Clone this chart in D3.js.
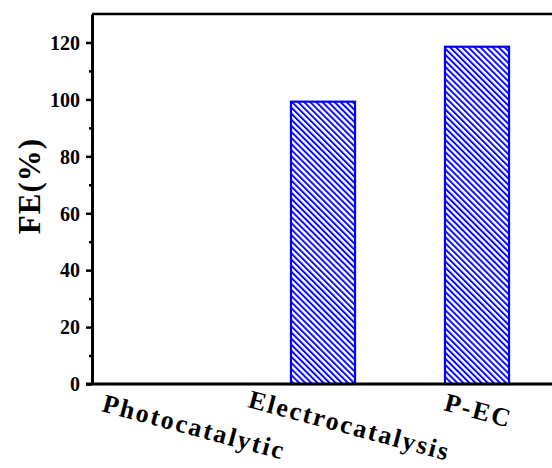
<!DOCTYPE html>
<html>
<head>
<meta charset="utf-8">
<script src="https://cdn.jsdelivr.net/npm/d3@7"></script>
<style>
  html, body { margin: 0; padding: 0; background: #fff; }
  svg { display: block; }
  text { font-family: "Liberation Serif", "Times New Roman", serif; font-weight: bold; fill: #000; }
</style>
</head>
<body>
<div id="chart"></div>
<script>
// ---- data ----
const categories = ["Photocatalytic", "Electrocatalysis", "P-EC"];
const feValues = [0, 99.2, 118.5];
const yTicks = [0, 20, 40, 60, 80, 100, 120];
const yMinorTicks = [10, 30, 50, 70, 90, 110];
const yLabel = "FE(%)";

// ---- layout ----
const W = 552, H = 468;
const mLeft = 92, mTop = 14, mBottom = 384, mRight = 554;
const labelOffsets = [[-68, 27], [-76, 23], [-34, 26]]; // label start relative to band centre / axis

const svg = d3.select("#chart").append("svg").attr("width", W).attr("height", H);

const hs = 4.3;
const defs = svg.append("defs");
const pat = defs.append("pattern")
  .attr("id", "hatch")
  .attr("patternUnits", "userSpaceOnUse")
  .attr("width", hs).attr("height", hs)
  .attr("patternTransform", "rotate(-45)");
pat.append("rect").attr("width", hs).attr("height", hs).attr("fill", "#fff");
pat.append("line").attr("x1", 1).attr("y1", 0).attr("x2", 1).attr("y2", hs)
  .attr("stroke", "#0000ff").attr("stroke-width", 1.9);

const x = d3.scaleBand().domain(categories).range([mLeft, mRight])
  .paddingInner(0.584).paddingOuter(0.292);
const y = d3.scaleLinear().domain([0, 130]).range([mBottom, mTop]);

// bars
svg.append("g").selectAll("rect").data(categories).join("rect")
  .attr("x", d => x(d))
  .attr("y", (d, i) => y(feValues[i]))
  .attr("width", x.bandwidth())
  .attr("height", (d, i) => y(0) - y(feValues[i]))
  .attr("fill", "url(#hatch)")
  .attr("stroke", "#0000ff")
  .attr("stroke-width", 2.2);

// frame top / right
svg.append("path")
  .attr("d", `M${mLeft},${mTop}H${mRight + 2}V${mBottom}`)
  .attr("fill", "none").attr("stroke", "#000").attr("stroke-width", 2.5);

// y axis
const yAxis = d3.axisLeft(y).tickValues(yTicks).tickSize(6).tickPadding(6).tickSizeOuter(0);
const gy = svg.append("g").attr("transform", `translate(${mLeft},0)`).call(yAxis);
gy.attr("font-family", null).attr("font-size", null);
gy.select(".domain").attr("stroke", "#000").attr("stroke-width", 3);
gy.selectAll(".tick line").attr("stroke", "#000").attr("stroke-width", 2.5);
gy.selectAll(".tick text").attr("font-size", 20).attr("x", -12).attr("dy", "0.34em");

const yMinor = d3.axisLeft(y).tickValues(yMinorTicks).tickSize(3).tickFormat("").tickSizeOuter(0);
const gym = svg.append("g").attr("transform", `translate(${mLeft},0)`).call(yMinor);
gym.select(".domain").remove();
gym.selectAll(".tick line").attr("stroke", "#000").attr("stroke-width", 2.5);

// x axis line
const xAxis = d3.axisBottom(x).tickSize(0).tickFormat("").tickSizeOuter(0);
const gx = svg.append("g").attr("transform", `translate(0,${mBottom})`).call(xAxis);
gx.select(".domain").attr("stroke", "#000").attr("stroke-width", 3)
  .attr("d", `M${mLeft - 6},0H${mRight + 4}`);

// x category labels (rotated)
svg.append("g").selectAll("text").data(categories).join("text")
  .attr("transform", (d, i) => {
    const cx = x(d) + x.bandwidth() / 2 + labelOffsets[i][0];
    const cy = mBottom + labelOffsets[i][1];
    return `translate(${cx},${cy}) rotate(15)`;
  })
  .attr("font-size", 26)
  .attr("letter-spacing", 2.1)
  .text(d => d);

// y label
svg.append("text")
  .attr("transform", `translate(40,186) rotate(-90)`)
  .attr("text-anchor", "middle")
  .attr("font-size", 31)
  .attr("letter-spacing", 1)
  .text(yLabel);
</script>
</body>
</html>
